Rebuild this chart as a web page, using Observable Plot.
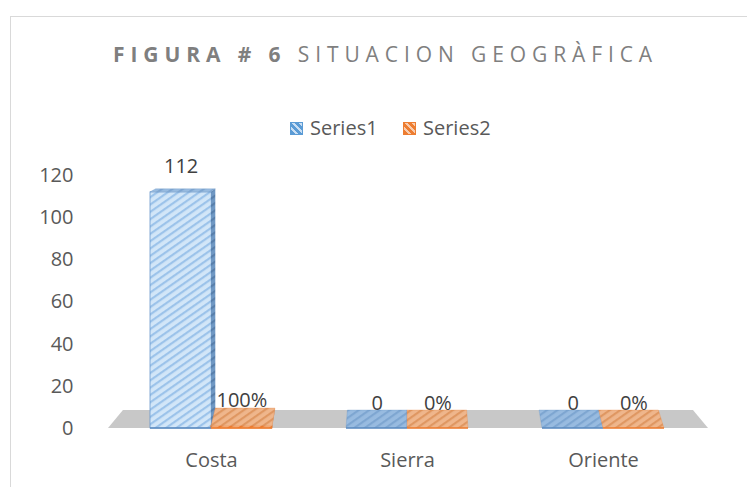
<!DOCTYPE html>
<html><head><meta charset="utf-8">
<script src="https://cdn.jsdelivr.net/npm/d3@7"></script>
<script src="https://cdn.jsdelivr.net/npm/@observablehq/plot@0.6"></script>
<style>
body{margin:0;background:#fff;font-family:"Open Sans",sans-serif;}
#wrap{position:relative;width:747px;height:487px;overflow:hidden;background:#fff;}
#border{position:absolute;left:10px;top:16px;width:800px;height:600px;border:1px solid #d9d9d9;box-sizing:border-box;pointer-events:none;}
#title{position:relative;height:100px;}
#title .t{position:absolute;left:113px;top:44px;font-size:21px;line-height:20px;letter-spacing:5.9px;color:#7f7f7f;white-space:nowrap;}
#title .t b{font-weight:700;}
#legend{position:relative;height:40px;font-size:20px;line-height:20px;color:#595959;}
#legend .sw{position:absolute;width:13px;height:13px;top:22px;box-sizing:border-box;}
#legend .lb{position:absolute;top:18px;white-space:nowrap;}
#chart svg{display:block;}
</style></head>
<body>
<div id="wrap">
  <div id="border"></div>
  <div id="title"><span class="t"><b>FIGURA # 6</b> SITUACION GEOGRÀFICA</span></div>
  <div id="legend">
    <div class="sw" style="left:290px;background:repeating-linear-gradient(45deg,#5b9bd5 0 3px,#c9def3 3px 5px);border:1px solid #5b9bd5"></div>
    <div class="lb" style="left:310px">Series1</div>
    <div class="sw" style="left:403px;background:repeating-linear-gradient(45deg,#ed7d31 0 3px,#f8cbad 3px 5px);border:1px solid #ed7d31"></div>
    <div class="lb" style="left:423px">Series2</div>
  </div>
  <div id="chart"></div>
</div>
<script>
const categories = ["Costa", "Sierra", "Oriente"];
const seriesNames = ["Series1", "Series2"];
const series1 = [112, 0, 0];
const series2 = [1, 0, 0];
const yTicks = [0, 20, 40, 60, 80, 100, 120];

const rows1 = categories.map((c, i) => ({cat: c, value: series1[i], label: String(series1[i])}));
const rows2 = categories.map((c, i) => ({cat: c, value: series2[i], label: d3.format(".0%")(series2[i])}));

const W = 747, H = 347, ML = 113, MR = 46, MT = 35, MB = 59;
const padIn = 0.38, padOut = 0.19;
const step = (W - ML - MR) / (categories.length - padIn + 2 * padOut);
const bw = step * (1 - padIn);
const half = bw / 2;

const kxFloor = 0.05, kxBar = 0.022, ky = 0.063;

function patterns(defs) {
  const specs = [
    ["pBlueFront", "#d2e6f8", "#9cc3ea"],
    ["pBlueSide", "#6f98c4", "#587fab"],
    ["pBlueTop", "#98bbe0", "#7ea6d1"],
    ["pOrangeTop", "#efb68c", "#df9762"],
    ["pOrangeFront", "#f5c29b", "#ed7d31"],
    ["pOrangeSide", "#d88a50", "#c4743a"]
  ];
  for (const [id, base, stripe] of specs) {
    const p = defs.append("pattern").attr("id", id).attr("patternUnits", "userSpaceOnUse")
      .attr("width", 6).attr("height", 6).attr("patternTransform", "rotate(-35)");
    p.append("rect").attr("width", 6).attr("height", 6).attr("fill", base);
    p.append("rect").attr("width", 6).attr("height", 2.2).attr("fill", stripe);
  }
}

function floorMark(index, scales, values, dimensions) {
  const sy = scales.y;
  const {width, marginLeft, marginRight} = dimensions;
  const vpx = (marginLeft + width - marginRight) / 2;
  const vpy = sy(yTicks[yTicks.length - 1]) - 33;
  const back = ([x, y]) => [x + (vpx - x) * kxFloor, y + (vpy - y) * ky];
  const g = d3.create("svg:g");
  patterns(g.append("defs"));
  const y0 = sy(0);
  const a = [marginLeft - 5, y0], b = [width - marginRight + 7, y0];
  g.append("polygon").attr("points", [a, b, back(b), back(a)].map(p => p.join(",")).join(" "))
    .attr("fill", "#c8c8c8");
  return g.node();
}

function facesMark(index, scales, values, dimensions) {
  const sx = scales.x, sy = scales.y;
  const {width, marginLeft, marginRight} = dimensions;
  const vpx = (marginLeft + width - marginRight) / 2;
  const vpy = sy(yTicks[yTicks.length - 1]) - 33;
  const back = ([x, y]) => [x + (vpx - x) * kxBar, y + (vpy - y) * ky];
  let b = typeof sx.bandwidth === "function" ? sx.bandwidth() : sx.bandwidth;
  if (!(b > 0)) b = bw;
  const g = d3.create("svg:g");
  const pts = arr => arr.map(p => p.join(",")).join(" ");
  categories.forEach((c, i) => {
    const xs = sx(c);
    const bars = [
      {x0: xs, x1: xs + b / 2, v: series1[i], side: "url(#pBlueSide)", top: "url(#pBlueTop)", edge: "#5b8bc0"},
      {x0: xs + b / 2, x1: xs + b, v: series2[i], side: "url(#pOrangeSide)", top: "url(#pOrangeTop)", edge: "#ed7d31"}
    ];
    for (const bar of bars) {
      const yT = sy(bar.v), yB = sy(0);
      const fl = [bar.x0, yT], fr = [bar.x1, yT], br = [bar.x1, yB], bl = [bar.x0, yB];
      if (yB - yT > 1) {
        if (vpx > bar.x1) {
          g.append("polygon").attr("points", pts([fr, back(fr), back(br), br])).attr("fill", bar.side);
        } else if (vpx < bar.x0) {
          g.append("polygon").attr("points", pts([fl, back(fl), back(bl), bl])).attr("fill", bar.side);
        }
      }
      g.append("polygon").attr("points", pts([fl, fr, back(fr), back(fl)])).attr("fill", bar.top)
        .attr("stroke", bar.edge).attr("stroke-width", 0.5).attr("stroke-opacity", 0.5);
      g.append("line").attr("x1", bar.x0).attr("x2", bar.x1).attr("y1", yB).attr("y2", yB)
        .attr("stroke", bar.edge).attr("stroke-width", 1.5);
    }
  });
  return g.node();
}

const chart = Plot.plot({
  width: W, height: H,
  marginLeft: ML, marginRight: MR, marginTop: MT, marginBottom: MB,
  style: {fontFamily: "Open Sans", fontSize: "20px", color: "#595959", background: "transparent", overflow: "visible"},
  x: {domain: categories, paddingInner: padIn, paddingOuter: padOut, tickSize: 0, tickPadding: 24, label: null},
  y: {domain: [0, 120], ticks: yTicks, tickSize: 0, tickPadding: 40, label: null},
  marks: [
    floorMark,
    Plot.barY(rows1, {x: "cat", y: "value", insetRight: half, fill: "url(#pBlueFront)", stroke: "#6a98cc", strokeWidth: 0.8}),
    Plot.barY(rows2, {x: "cat", y: "value", insetLeft: half, fill: "url(#pOrangeFront)", stroke: "#ed7d31", strokeWidth: 0.8}),
    facesMark,
    Plot.text(rows1, {x: "cat", y: "value", text: "label", dx: -half / 2, dy: -19, lineAnchor: "bottom", fill: "#404040", fontSize: 20}),
    Plot.text(rows2, {x: "cat", y: "value", text: "label", dx: half / 2, dy: -19, lineAnchor: "bottom", fill: "#404040", fontSize: 20})
  ]
});
document.getElementById("chart").appendChild(chart);
</script>
</body></html>
